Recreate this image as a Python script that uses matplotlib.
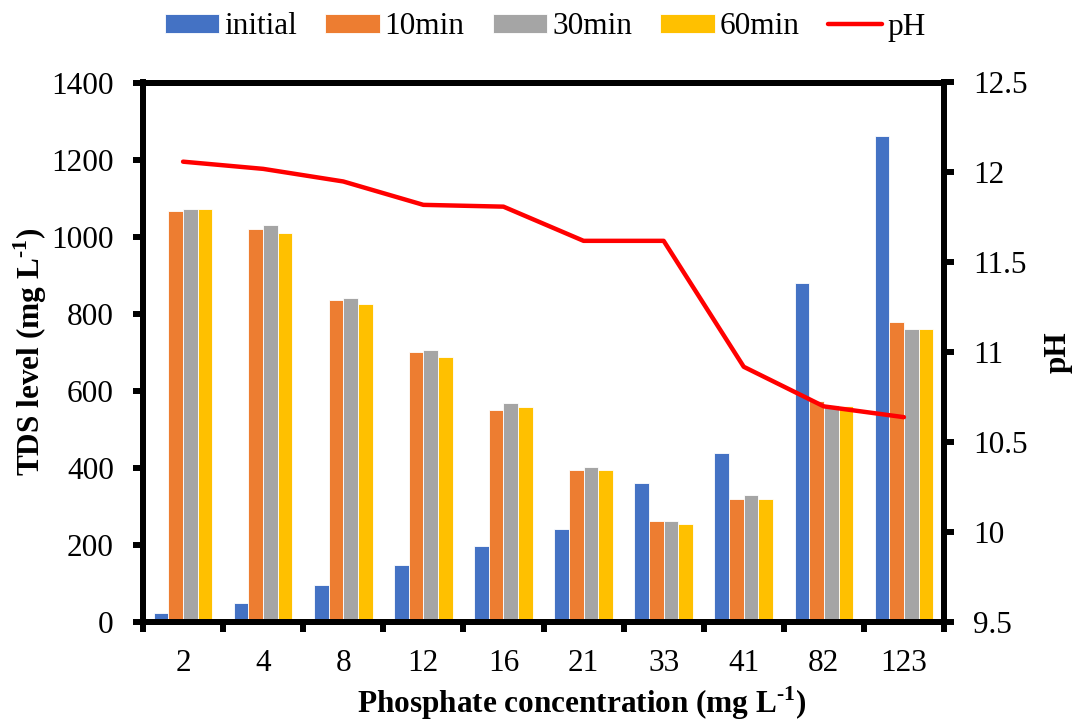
import numpy as np
import matplotlib
matplotlib.use("Agg")
import matplotlib.pyplot as plt
from matplotlib.ticker import FixedLocator

plt.rcParams["font.family"] = ["Liberation Serif", "DejaVu Serif"]
plt.rcParams["mathtext.fontset"] = "custom"
plt.rcParams["mathtext.rm"] = "Liberation Serif"
plt.rcParams["mathtext.bf"] = "Liberation Serif:bold"

# phosphate dose groups
concentrations = ["2", "4", "8", "12", "16", "21", "33", "41", "82", "123"]

# TDS (mg/L) at each sampling time
tds_initial = [24, 49, 98, 148, 197, 242, 361, 440, 881, 1262]
tds_10min = [1068, 1019, 835, 702, 550, 396, 264, 321, 574, 779]
tds_30min = [1073, 1031, 841, 706, 570, 404, 264, 329, 563, 760]
tds_60min = [1073, 1009, 825, 687, 558, 395, 256, 321, 560, 760]

ph_values = [12.06, 12.02, 11.95, 11.82, 11.81, 11.62, 11.62, 10.92, 10.70, 10.64]

series = [
    ("initial", tds_initial, "#4472C4"),
    ("10min", tds_10min, "#ED7D31"),
    ("30min", tds_30min, "#A5A5A5"),
    ("60min", tds_60min, "#FFC000"),
]

FS = 22.5
SPINE = 4.3

fig = plt.figure(figsize=(10.8, 7.22), dpi=100)
ax = fig.add_axes([143 / 1080, 1 - 622.3 / 722, (944 - 143) / 1080, (622.3 - 82.5) / 722])

x = np.arange(len(concentrations))
bw = 0.183
handles = []
for k, (name, vals, col) in enumerate(series):
    b = ax.bar(x + (k - 1.5) * bw, vals, bw, color=col, edgecolor="white",
               linewidth=0.6, label=name, zorder=2)
    handles.append(b)

ax.set_xlim(-0.5, len(concentrations) - 0.5)
ax.set_ylim(0, 1400)
ax.set_yticks(np.arange(0, 1401, 200))
ax.set_xticks(x)
ax.set_xticklabels(concentrations)
ax.xaxis.set_minor_locator(FixedLocator(np.arange(-0.5, len(concentrations), 1.0)))
ax.tick_params(axis="x", which="major", length=0, pad=19, labelsize=FS)
ax.tick_params(axis="x", which="minor", length=7, width=SPINE, direction="out")
ax.tick_params(axis="y", length=7, width=SPINE, direction="out", pad=14, labelsize=FS)

ax2 = ax.twinx()
line, = ax2.plot(x, ph_values, color="#FF0000", linewidth=3.2, label="pH",
                 solid_capstyle="round", zorder=3)
ax2.set_ylim(9.5, 12.5)
ax2.set_yticks(np.arange(9.5, 12.51, 0.5))
ax2.set_yticklabels(["9.5", "10", "10.5", "11", "11.5", "12", "12.5"])
ax2.tick_params(axis="y", length=7, width=SPINE, direction="out", pad=14, labelsize=FS)

for a in (ax, ax2):
    for s in a.spines.values():
        s.set_linewidth(SPINE)
        s.set_color("black")

unit = "(mg L$^{\\mathbf{\\text{-}1}}$)"
fig.text(30 / 1080, 1 - 352 / 722, "TDS level " + unit, rotation=90,
         ha="center", va="center", fontsize=FS, fontweight="bold")
fig.text(1058 / 1080, 1 - 352 / 722, "pH", rotation=90,
         ha="center", va="center", fontsize=FS, fontweight="bold")
fig.text(582 / 1080, 1 - 703 / 722, "Phosphate concentration " + unit,
         ha="center", va="center", fontsize=FS, fontweight="bold")

fig.legend(handles + [line], [s[0] for s in series] + ["pH"],
           loc="center", bbox_to_anchor=(545 / 1080, 1 - 27 / 722), ncol=5,
           frameon=False, fontsize=22.5, handlelength=1.75, handleheight=0.55,
           handletextpad=0.15, columnspacing=0.9, borderaxespad=0)

fig.savefig("out.png", dpi=100)
